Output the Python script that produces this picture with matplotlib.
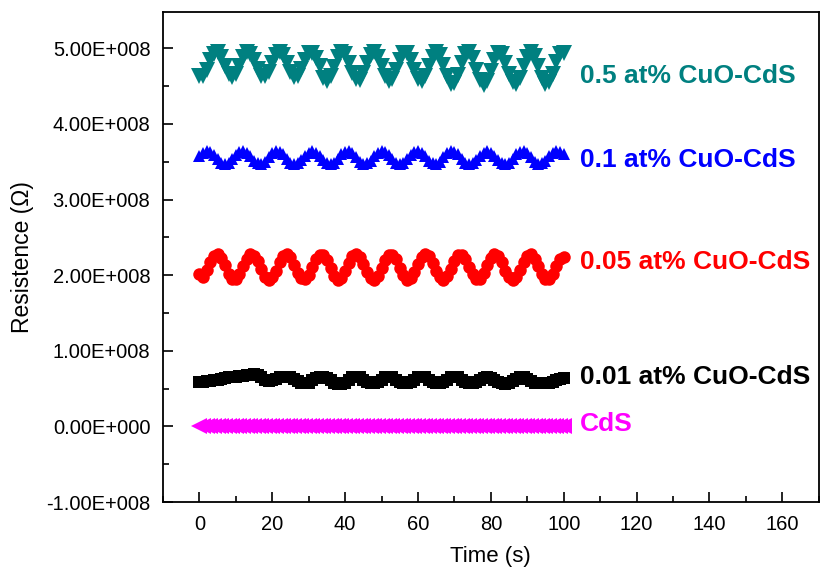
import numpy as np
import matplotlib
matplotlib.use("Agg")
import matplotlib.pyplot as plt
from matplotlib.ticker import MultipleLocator, FuncFormatter

plt.rcParams['font.family'] = ['Liberation Sans', 'DejaVu Sans']

# time axis (s), one reading per second
time_s = np.arange(0, 101, 1)

# resistance readings, in units of 1e8 ohm
r_05 = [4.63, 4.64, 4.72, 4.84, 4.93, 4.95, 4.88, 4.77, 4.66, 4.62,
        4.66, 4.77, 4.88, 4.95, 4.93, 4.84, 4.73, 4.64, 4.63, 4.69,
        4.81, 4.91, 4.95, 4.91, 4.80, 4.69, 4.62, 4.64, 4.73, 4.85,
        4.94, 4.94, 4.87, 4.76, 4.61, 4.57, 4.63, 4.75, 4.88, 4.95,
        4.92, 4.81, 4.68, 4.59, 4.58, 4.67, 4.80, 4.91, 4.95, 4.89,
        4.76, 4.63, 4.57, 4.60, 4.72, 4.85, 4.94, 4.94, 4.85, 4.71,
        4.60, 4.57, 4.64, 4.77, 4.89, 4.95, 4.91, 4.78, 4.63, 4.53,
        4.54, 4.65, 4.80, 4.92, 4.95, 4.87, 4.72, 4.58, 4.52, 4.57,
        4.70, 4.85, 4.94, 4.93, 4.81, 4.66, 4.55, 4.53, 4.61, 4.76,
        4.89, 4.95, 4.90, 4.76, 4.61, 4.53, 4.55, 4.66, 4.82, 4.93,
        4.94]
r_01 = [3.57, 3.62, 3.64, 3.63, 3.59, 3.53, 3.49, 3.47, 3.49, 3.53,
        3.59, 3.63, 3.64, 3.62, 3.57, 3.51, 3.48, 3.47, 3.50, 3.56,
        3.61, 3.64, 3.63, 3.60, 3.54, 3.49, 3.47, 3.48, 3.52, 3.58,
        3.62, 3.64, 3.62, 3.58, 3.52, 3.48, 3.47, 3.49, 3.54, 3.60,
        3.63, 3.64, 3.61, 3.56, 3.50, 3.47, 3.48, 3.51, 3.57, 3.62,
        3.64, 3.63, 3.59, 3.53, 3.49, 3.47, 3.49, 3.53, 3.59, 3.63,
        3.64, 3.62, 3.57, 3.51, 3.48, 3.47, 3.50, 3.56, 3.61, 3.64,
        3.63, 3.60, 3.54, 3.49, 3.47, 3.48, 3.52, 3.58, 3.62, 3.64,
        3.62, 3.58, 3.52, 3.48, 3.47, 3.49, 3.54, 3.60, 3.63, 3.64,
        3.61, 3.56, 3.50, 3.47, 3.48, 3.51, 3.57, 3.62, 3.64, 3.63,
        3.60]
r_005 = [2.02, 1.98, 2.07, 2.18, 2.26, 2.28, 2.23, 2.13, 2.02, 1.95,
         1.95, 2.01, 2.12, 2.22, 2.28, 2.26, 2.19, 2.08, 1.98, 1.94,
         1.97, 2.06, 2.17, 2.25, 2.28, 2.24, 2.14, 2.03, 1.96, 1.95,
         2.00, 2.11, 2.21, 2.27, 2.27, 2.20, 2.09, 1.99, 1.94, 1.96,
         2.05, 2.16, 2.25, 2.28, 2.24, 2.15, 2.04, 1.96, 1.94, 1.99,
         2.09, 2.20, 2.27, 2.27, 2.21, 2.10, 2.00, 1.94, 1.96, 2.04,
         2.15, 2.24, 2.28, 2.25, 2.16, 2.05, 1.97, 1.94, 1.99, 2.08,
         2.19, 2.27, 2.27, 2.22, 2.11, 2.01, 1.95, 1.95, 2.03, 2.13,
         2.23, 2.28, 2.26, 2.17, 2.06, 1.97, 1.94, 1.98, 2.07, 2.18,
         2.26, 2.28, 2.22, 2.12, 2.02, 1.95, 1.95, 2.02, 2.12, 2.22,
         2.24]
r_001 = [0.59, 0.59, 0.60, 0.60, 0.61, 0.62, 0.63, 0.64, 0.65, 0.66,
         0.66, 0.67, 0.67, 0.68, 0.68, 0.69, 0.68, 0.65, 0.61, 0.60,
         0.61, 0.63, 0.65, 0.66, 0.66, 0.65, 0.63, 0.60, 0.58, 0.57,
         0.58, 0.61, 0.64, 0.66, 0.66, 0.64, 0.61, 0.58, 0.56, 0.56,
         0.58, 0.62, 0.65, 0.66, 0.65, 0.62, 0.59, 0.57, 0.57, 0.59,
         0.62, 0.65, 0.66, 0.65, 0.62, 0.59, 0.57, 0.57, 0.59, 0.62,
         0.65, 0.66, 0.65, 0.62, 0.59, 0.57, 0.57, 0.59, 0.62, 0.65,
         0.66, 0.65, 0.62, 0.59, 0.57, 0.57, 0.59, 0.62, 0.64, 0.65,
         0.64, 0.62, 0.59, 0.57, 0.56, 0.57, 0.60, 0.63, 0.65, 0.65,
         0.63, 0.60, 0.58, 0.57, 0.57, 0.58, 0.58, 0.59, 0.61, 0.63,
         0.64]
r_cds = [0.0, 0.0, 0.0, 0.0, 0.0, 0.0, 0.0, 0.0, 0.0, 0.0,
         0.0, 0.0, 0.0, 0.0, 0.0, 0.0, 0.0, 0.0, 0.0, 0.0,
         0.0, 0.0, 0.0, 0.0, 0.0, 0.0, 0.0, 0.0, 0.0, 0.0,
         0.0, 0.0, 0.0, 0.0, 0.0, 0.0, 0.0, 0.0, 0.0, 0.0,
         0.0, 0.0, 0.0, 0.0, 0.0, 0.0, 0.0, 0.0, 0.0, 0.0,
         0.0, 0.0, 0.0, 0.0, 0.0, 0.0, 0.0, 0.0, 0.0, 0.0,
         0.0, 0.0, 0.0, 0.0, 0.0, 0.0, 0.0, 0.0, 0.0, 0.0,
         0.0, 0.0, 0.0, 0.0, 0.0, 0.0, 0.0, 0.0, 0.0, 0.0,
         0.0, 0.0, 0.0, 0.0, 0.0, 0.0, 0.0, 0.0, 0.0, 0.0,
         0.0, 0.0, 0.0, 0.0, 0.0, 0.0, 0.0, 0.0, 0.0, 0.0,
         0.0]

series_labels = ["0.5 at% CuO-CdS", "0.1 at% CuO-CdS", "0.05 at% CuO-CdS",
                 "0.01 at% CuO-CdS", "CdS"]

fig = plt.figure(figsize=(8.27, 5.74), dpi=100)
ax = fig.add_axes([0.197, 0.1254, 0.793, 0.8536])

styles = [("#008080", "v", 11), ("#0000ff", "^", 9), ("#ff0000", "o", 9),
          ("#000000", "s", 8), ("#ff00ff", "<", 11)]
all_series = [r_05, r_01, r_005, r_001, r_cds]
label_y = [4.63e8, 3.52e8, 2.17e8, 0.66e8, 0.03e8]

for vals, (col, mk, ms), lab, ly in zip(all_series, styles, series_labels, label_y):
    ax.plot(time_s, np.array(vals) * 1e8, linestyle="none", marker=mk,
            markersize=ms, color=col, markeredgewidth=0)
    ax.text(104.5, ly, lab, color=col, fontsize=19, fontweight="bold",
            ha="left", va="center")

ax.set_xlim(-10, 170)
ax.set_ylim(-1e8, 5.48e8)
ax.xaxis.set_major_locator(MultipleLocator(20))
ax.xaxis.set_minor_locator(MultipleLocator(10))
ax.yaxis.set_major_locator(MultipleLocator(1e8))
ax.yaxis.set_minor_locator(MultipleLocator(0.5e8))


def sci_fmt(v, pos):
    if abs(v) < 1:
        return "0.00E+000"
    e = int(np.floor(np.log10(abs(v))))
    m = v / 10 ** e
    return "%.2fE+%03d" % (m, e)


ax.yaxis.set_major_formatter(FuncFormatter(sci_fmt))
ax.tick_params(which="both", direction="in", top=False, right=False,
               labelsize=14.5, width=1.2)
ax.tick_params(which="major", length=7, pad=9)
ax.tick_params(which="minor", length=4)
for sp in ax.spines.values():
    sp.set_linewidth(1.3)

ax.set_xlabel("Time (s)", fontsize=16, labelpad=9)
ax.set_ylabel("Resistence (\u03a9)", fontsize=16.5, labelpad=9)

fig.savefig("out.png", dpi=100)
